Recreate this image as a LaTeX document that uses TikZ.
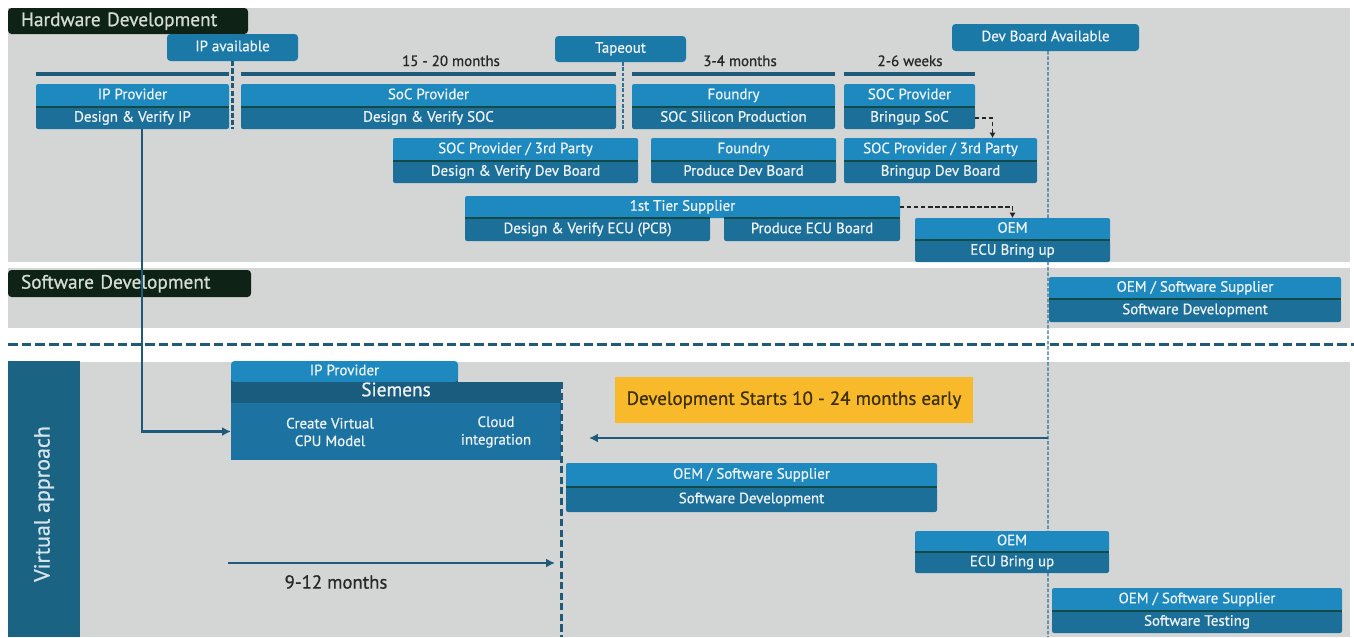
\documentclass[tikz,border=0pt]{standalone}
\usepackage{fontspec}
\setmainfont{PT Sans}[RawFeature={embolden=0.8}]
\usetikzlibrary{arrows.meta}

\definecolor{bandgray}{RGB}{212,214,214}
\definecolor{rolebl}{RGB}{30,137,190}
\definecolor{taskbl}{RGB}{27,111,153}
\definecolor{sepgr}{RGB}{18,74,72}
\definecolor{milebl}{RGB}{27,121,168}
\definecolor{tabdark}{RGB}{14,34,22}
\definecolor{tabtext}{RGB}{212,220,212}
\definecolor{vbar}{RGB}{27,99,131}
\definecolor{siemhead}{RGB}{26,92,126}
\definecolor{siembody}{RGB}{28,114,160}
\definecolor{linebl}{RGB}{32,90,122}
\definecolor{thinbl}{RGB}{47,111,149}
\definecolor{amber}{RGB}{248,186,42}
\definecolor{ambertext}{RGB}{60,48,0}
\definecolor{celltext}{RGB}{236,242,247}
\definecolor{darktext}{RGB}{40,40,40}

\newcommand\cellfont{\fontsize{8.5}{10}\selectfont}

% two-part timeline box: name, x1, x2, y1, ymid, y2, role, task
\newcommand\tlbox[8]{%
  \fill[taskbl] (#2,#5-3) rectangle (#3,#5+3);
  \node[rolecell, minimum width={(#3-#2)*0.02cm}, minimum height={(#5-#4)*0.02cm}]
    (#1) at ({(#2+#3)/2},{(#4+#5)/2}) {#7};
  \node[taskcell, minimum width={(#3-#2)*0.02cm}, minimum height={(#6-#5)*0.02cm}]
    (#1-task) at ({(#2+#3)/2},{(#5+#6)/2}) {#8};
  \draw[sepline] (#1.south west) -- (#1.south east);
}

\begin{document}
\begin{tikzpicture}[x=0.02cm, y=-0.02cm,
  cell/.style={inner sep=0pt, outer sep=0pt, rounded corners=1.2pt, text=celltext,
    font=\cellfont, text height=6pt, text depth=1.8pt},
  rolecell/.style={cell, fill=rolebl},
  taskcell/.style={cell, fill=taskbl},
  sepline/.style={draw=sepgr, line width=1.1pt},
  milestone/.style={cell, fill=milebl, rounded corners=2pt},
  bandtab/.style={fill=tabdark, rounded corners=2pt, text=tabtext, anchor=north west,
    font=\fontsize{11}{12}\selectfont, align=left, inner ysep=0pt, outer sep=0pt,
    inner xsep={13*0.02cm}, text height=7.8pt, text depth=2pt},
  lbl/.style={text=darktext, font=\fontsize{8.5}{10}\selectfont, anchor=base, inner sep=0pt},
  tbar/.style={draw=linebl, line width=2.2pt},
  flow/.style={draw=linebl, line width=1.5pt, -{Latex[length=5pt,width=5pt]}},
  dconn/.style={draw=black!85, line width=1.1pt, dash pattern=on 2.5pt off 1.5pt,
    -{Latex[length=3pt,width=3.5pt]}},
  vdash/.style={draw=thinbl, line width=0.7pt, dash pattern=on 2pt off 1pt},
  ipdash/.style={draw=linebl, line width=1.7pt, dash pattern=on 3pt off 1.2pt},
  sdash/.style={draw=linebl, line width=1.7pt, dash pattern=on 4pt off 2pt},
  sepdash/.style={draw=linebl, line width=1.7pt, dash pattern=on 5.5pt off 2.3pt},
]
\useasboundingbox (0,0) rectangle (1354,637);
\fill[white] (0,0) rectangle (1354,637);

% bands
\fill[bandgray] (8,8) rectangle (1350,262);
\fill[bandgray] (8,268) rectangle (1350,328);
\fill[bandgray] (8,362) rectangle (1350,637);
\draw[sepdash] (8,344) -- (1354,344);

% band tabs
\node[bandtab, minimum height={26*0.02cm}, text width={214*0.02cm}] (hwtab) at (8,8) {Hardware Development};
\node[bandtab, minimum height={27*0.02cm}, text width={217*0.02cm}] (swtab) at (8,270) {Software Development};

% milestones
\node[milestone, minimum width={131*0.02cm}, minimum height={27*0.02cm}] (ipav) at (232.5,47.5) {IP available};
\node[milestone, minimum width={131*0.02cm}, minimum height={26*0.02cm}] (tape) at (620.5,49) {Tapeout};
\node[milestone, minimum width={187*0.02cm}, minimum height={27*0.02cm}] (devb) at (1045.5,37.5) {Dev Board Available};

% dev board availability line
\coordinate (devbend) at (1048,637);
\draw[vdash] ([xshift={2.5*0.02cm}]devb.south) -- (devbend);

% phase bars and durations
\draw[tbar] (36,74) -- (229,74);
\draw[tbar] (241,74) -- (616,74);
\draw[tbar] (632,74) -- (835,74);
\draw[tbar] (844,74) -- (975,74);
\node[lbl] (d1) at (451,66) {15 - 20 months};
\node[lbl] (d2) at (740,66) {3-4 months};
\node[lbl] (d3) at (910,66) {2-6 weeks};

% hardware rows
\tlbox{ipprov}{36}{229}{84}{107}{129}{IP Provider}{Design \& Verify IP}
\tlbox{socprov}{241}{616}{84}{107}{129}{SoC Provider}{Design \& Verify SOC}
\tlbox{fdry}{632}{835}{84}{107}{129}{Foundry}{SOC Silicon Production}
\tlbox{bsoc}{844}{975}{84}{107}{129}{SOC Provider}{Bringup SoC}

\tlbox{dvbrd}{393}{638}{138}{161}{183}{SOC Provider / 3rd Party}{Design \& Verify Dev Board}
\tlbox{fdrybrd}{651}{836}{138}{161}{183}{Foundry}{Produce Dev Board}
\tlbox{bdev}{844}{1037}{138}{161}{183}{SOC Provider / 3rd Party}{Bringup Dev Board}

% first tier supplier
\fill[taskbl] (465,215) rectangle (710,221);
\fill[taskbl] (724,215) rectangle (900,221);
\node[rolecell, minimum width={435*0.02cm}, minimum height={22*0.02cm}] (tier) at (682.5,207) {1st Tier Supplier};
\node[taskcell, minimum width={245*0.02cm}, minimum height={23*0.02cm}] (tier-ecu) at (587.5,229.5) {Design \& Verify ECU (PCB)};
\node[taskcell, minimum width={176*0.02cm}, minimum height={23*0.02cm}] (tier-prod) at (812,229.5) {Produce ECU Board};
\draw[sepline] (tier-ecu.north west) -- (tier-ecu.north east);
\draw[sepline] (tier-prod.north west) -- (tier-prod.north east);

\tlbox{oemhw}{915}{1110}{218}{240}{262}{OEM}{ECU Bring up}

% milestone markers
\draw[ipdash] (ipav.south) -- (ipav.south |- ipprov-task.south);
\draw[vdash] ([xshift={2.5*0.02cm}]tape.south) -- ([xshift={2.5*0.02cm}]tape.south |- socprov-task.south);

% hand-over links
\draw[dconn] (bsoc-task.east) -| ([xshift={52*0.02cm}]bdev.north);
\draw[dconn] (tier.east) -| (oemhw.north);

% software development
\tlbox{swdev}{1049}{1341}{277}{299}{322}{OEM / Software Supplier}{Software Development}

% virtual approach
\fill[vbar] (8,361) rectangle (80,637);
\node[text={rgb,255:red,214;green,228;blue,236}, font=\fontsize{12.5}{14}\selectfont, rotate=90, inner sep=0pt] (vlabel) at (44,504) {Virtual approach};

\fill[siemhead] (231,379) rectangle (458,385);
\node[cell, fill=rolebl, rounded corners=2pt, minimum width={227*0.02cm}, minimum height={21*0.02cm}] (vip) at (344.5,371.5) {IP Provider};
\node[cell, fill=siemhead, rounded corners=0pt, minimum width={330*0.02cm}, minimum height={21*0.02cm}, font=\fontsize{11}{12}\selectfont] (siemhead) at (396,392.5) {Siemens};
\node[cell, fill=siembody, rounded corners=0pt, minimum width={330*0.02cm}, minimum height={57*0.02cm}] (siembody) at (396,431.5) {};
\node[text=celltext, font=\cellfont, align=center, inner sep=0pt] (vcpu) at (330,432) {Create Virtual\\CPU Model};
\node[text=celltext, font=\cellfont, align=center, inner sep=0pt] (vcloud) at (496,432) {Cloud\\integration};
\coordinate (vend) at (561,637);
\draw[sdash] (siemhead.north east) -- (vend);

\draw[flow] ([xshift={9.5*0.02cm}]ipprov-task.south) |- (siembody.west);

\node[fill=amber, text=ambertext, font=\fontsize{10.8}{12}\selectfont, inner sep=0pt,
  minimum width={358*0.02cm}, minimum height={46*0.02cm}] (early) at (794,400) {Development Starts 10 - 24 months early};
\coordinate (earlyfrom) at (1048,438);
\coordinate (earlyto) at (589,438);
\draw[flow] (earlyfrom) -- (earlyto);

\tlbox{vswdev}{566}{937}{463}{487}{512}{OEM / Software Supplier}{Software Development}
\tlbox{voem}{915}{1109}{531}{552}{573}{OEM}{ECU Bring up}
\tlbox{vtest}{1052}{1342}{588}{611}{633}{OEM / Software Supplier}{Software Testing}

\coordinate (spanfrom) at (228,563);
\coordinate (spanto) at (555,563);
\draw[flow] (spanfrom) -- (spanto);
\node[text=darktext, font=\fontsize{10.7}{12}\selectfont, inner sep=0pt] (spanlbl) at (336,582) {9-12 months};
\end{tikzpicture}
\end{document}
